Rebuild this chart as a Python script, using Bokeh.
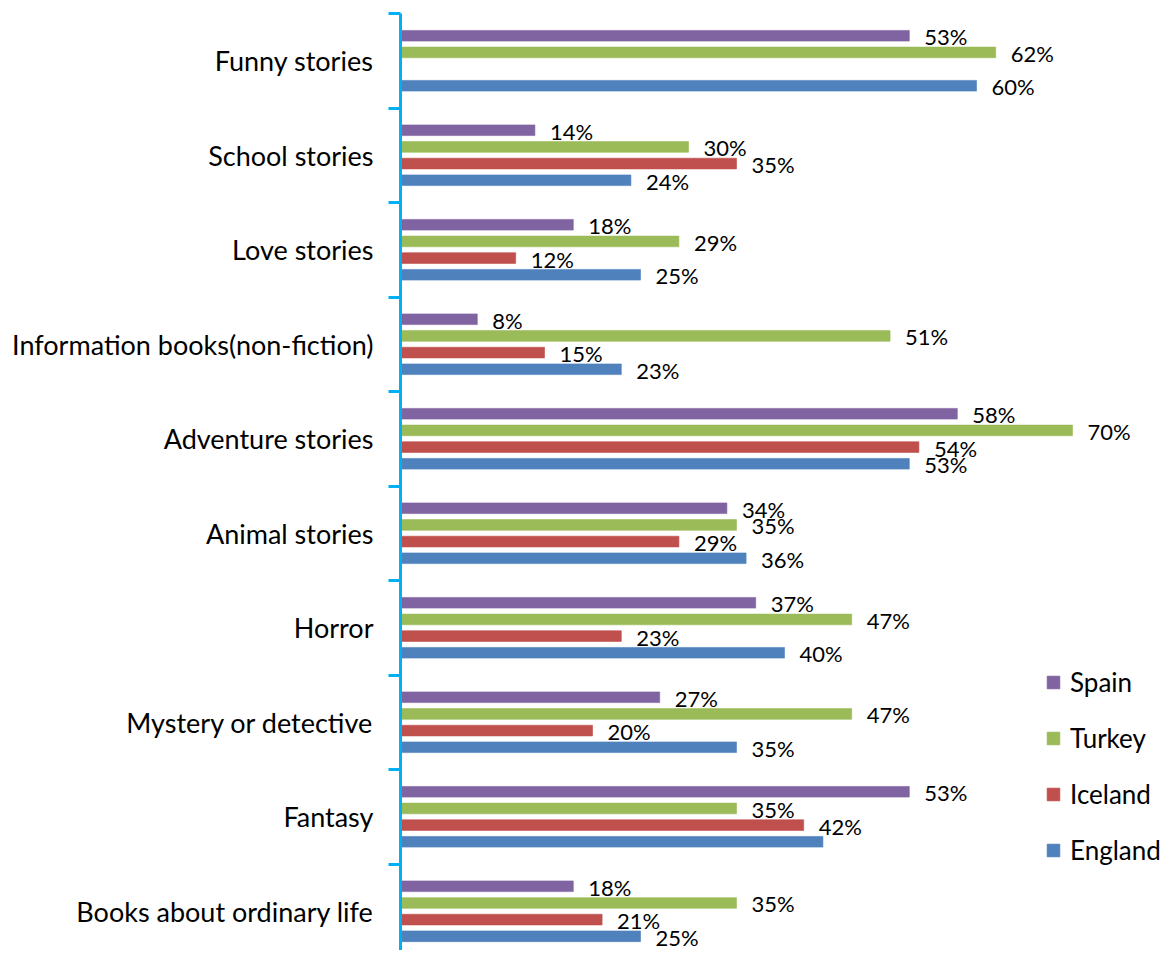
from bokeh.plotting import figure
from bokeh.models import Range1d, FixedTicker, ColumnDataSource, Legend, LegendItem
from bokeh.core.properties import value
from bokeh.embed import file_html
from bokeh.resources import INLINE

categories = ["Funny stories", "School stories", "Love stories",
              "Information books(non-fiction)", "Adventure stories", "Animal stories",
              "Horror", "Mystery or detective", "Fantasy", "Books about ordinary life"]
series = ["Spain", "Turkey", "Iceland", "England"]
spain = [53, 14, 18, 8, 58, 34, 37, 27, 53, 18]
turkey = [62, 30, 29, 51, 70, 35, 47, 47, 35, 35]
iceland = [None, 35, 12, 15, 54, 29, 23, 20, 42, 21]
england = [60, 24, 25, 23, 53, 36, 40, 35, 44, 25]
england_label_hidden = ["Fantasy"]
colors = ["#8064A2", "#9BBB59", "#C0504D", "#4F81BD"]

FONT = "Lato"
offsets = [-0.2646, -0.088, 0.088, 0.2646]

p = figure(width=1168, height=950, output_backend="svg", toolbar_location=None,
           x_range=Range1d(0, 80), y_range=Range1d(9.415, -0.5),
           x_axis_location=None, min_border_left=400, min_border_right=0,
           min_border_top=13, min_border_bottom=0)
p.outline_line_color = None
p.xgrid.visible = False
p.ygrid.visible = False

legend_items = []
for name, vals, col, off in zip(series, [spain, turkey, iceland, england], colors, offsets):
    ys, xs = [], []
    lys, lxs, ltx = [], [], []
    for i, v in enumerate(vals):
        if v is None:
            continue
        ys.append(i + off)
        xs.append(v)
        if name == "England" and categories[i] in england_label_hidden:
            continue
        lys.append(i + off)
        lxs.append(v)
        ltx.append(f"{v}%")
    src = ColumnDataSource(dict(y=ys, x=xs))
    r = p.hbar(y="y", left=0, right="x", height=0.113, source=src,
               fill_color=col, line_color=col, line_alpha=0.6, line_width=1)
    legend_items.append(LegendItem(label=name, renderers=[r]))
    lsrc = ColumnDataSource(dict(y=lys, x=lxs, t=ltx))
    p.text(x="x", y="y", text="t", source=lsrc, x_offset=15, y_offset=1,
           text_align="left", text_baseline="middle",
           text_font=value(FONT), text_font_size="22px", text_color="#000000")

legend = Legend(items=legend_items, location=(645, 83), padding=0, margin=0,
                border_line_color=None, background_fill_alpha=0,
                glyph_width=16, glyph_height=16, label_standoff=9,
                label_height=34, spacing=22,
                label_text_font=FONT, label_text_font_size="26px",
                label_text_color="#000000")
p.add_layout(legend)

ax = p.yaxis[0]
ax.ticker = FixedTicker(ticks=list(range(len(categories))),
                        minor_ticks=[i - 0.5 for i in range(len(categories) + 1)])
ax.major_label_overrides = {i: c for i, c in enumerate(categories)}
ax.major_tick_out = 0
ax.major_tick_in = 0
ax.major_tick_line_color = None
ax.minor_tick_out = 12
ax.minor_tick_in = 0
ax.minor_tick_line_color = "#00B0F0"
ax.minor_tick_line_width = 3
ax.axis_line_color = "#00B0F0"
ax.axis_line_width = 3
ax.major_label_standoff = 15
ax.major_label_text_font = FONT
ax.major_label_text_font_size = "27px"
ax.major_label_text_color = "#000000"

open("out.html", "w").write(file_html(p, INLINE))
